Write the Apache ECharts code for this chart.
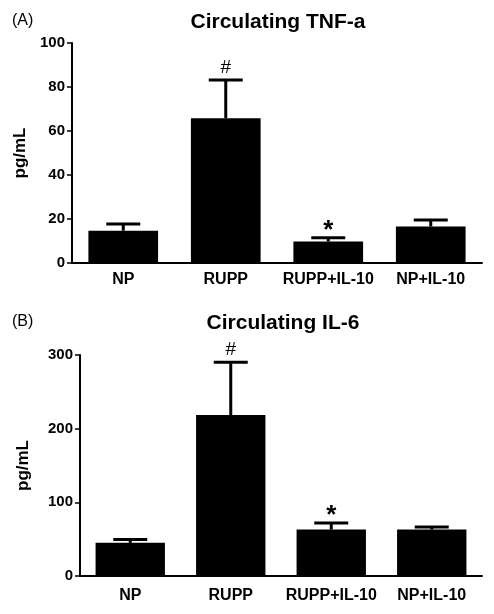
<!DOCTYPE html>
<html>
<head>
<meta charset="utf-8">
<script src="https://cdn.jsdelivr.net/npm/echarts@6/dist/echarts.min.js"></script>
<style>html,body{margin:0;padding:0;background:#fff;}#c{width:494px;height:614px;}</style>
</head>
<body>
<div id="c"></div>
<script>
const categories = ['NP', 'RUPP', 'RUPP+IL-10', 'NP+IL-10'];
const tnfMean = [14.7, 65.8, 9.8, 16.6];
const tnfUpper = [17.7, 83.2, 11.5, 19.6];
const tnfMarks = ['', '#', '*', ''];
const il6Mean = [45, 218.5, 63, 63];
const il6Upper = [49.5, 290, 72, 66.5];
const il6Marks = ['', '#', '*', ''];
const tnfAxis = { min: 0, max: 100, interval: 20 };
const il6Axis = { min: 0, max: 300, interval: 100 };
const titles = ['Circulating TNF-a', 'Circulating IL-6'];
const panelLabels = ['(A)', '(B)'];

const FONT = 'Arial, "Liberation Sans", Helvetica, sans-serif';
const chart = echarts.init(document.getElementById('c'), null, { renderer: 'canvas' });

function errRender(marks) {
  return function (params, api) {
    const idx = api.value(0);
    const p0 = api.coord([idx, api.value(1)]);
    const p1 = api.coord([idx, api.value(2)]);
    const half = 17;
    const mark = marks[params.dataIndex];
    const children = [
      { type: 'line', shape: { x1: p0[0], y1: p0[1], x2: p1[0], y2: p1[1] }, style: { stroke: '#000', lineWidth: 3 } },
      { type: 'line', shape: { x1: p1[0] - half, y1: p1[1], x2: p1[0] + half, y2: p1[1] }, style: { stroke: '#000', lineWidth: 3 } }
    ];
    if (mark === '#') {
      children.push({ type: 'text', style: { text: '#', x: p1[0], y: p1[1] - 3, align: 'center', verticalAlign: 'bottom', font: 'normal 19px ' + FONT, fill: '#000' } });
    } else if (mark === '*') {
      children.push({ type: 'text', style: { text: '*', x: p1[0], y: p1[1] + 6, align: 'center', verticalAlign: 'bottom', font: 'bold 26px ' + FONT, fill: '#000' } });
    }
    return { type: 'group', children: children };
  };
}

function xAxisDef(gi) {
  return {
    type: 'category', gridIndex: gi, data: categories,
    axisLine: { lineStyle: { color: '#000', width: 2 } },
    axisTick: { alignWithLabel: true, length: 5, lineStyle: { color: '#000', width: 1.5 } },
    axisLabel: { interval: 0, color: '#000', fontFamily: FONT, fontWeight: 'bold', fontSize: 16, margin: gi === 0 ? 9 : 12 },
    splitLine: { show: false }
  };
}
function yAxisDef(gi, ax, gap) {
  return {
    type: 'value', gridIndex: gi, min: ax.min, max: ax.max, interval: ax.interval,
    name: 'pg/mL', nameLocation: 'middle', nameGap: gap, nameRotate: 90,
    nameTextStyle: { color: '#000', fontFamily: FONT, fontWeight: 'bold', fontSize: 17 },
    axisLine: { show: true, lineStyle: { color: '#000', width: 2 } },
    axisTick: { show: true, length: 5, lineStyle: { color: '#000', width: 1.5 } },
    axisLabel: { color: '#000', fontFamily: FONT, fontWeight: 'bold', fontSize: 15, margin: 7 },
    splitLine: { show: false }
  };
}

const option = {
  backgroundColor: '#fff',
  animation: false,
  grid: [
    { left: 72, right: 12, top: 43, height: 220 },
    { left: 80, right: 12, top: 355, height: 221 }
  ],
  xAxis: [xAxisDef(0), xAxisDef(1)],
  yAxis: [yAxisDef(0, tnfAxis, 40), yAxisDef(1, il6Axis, 48)],
  graphic: [
    { type: 'text', left: 12, top: 13, style: { text: panelLabels[0], font: 'normal 16px ' + FONT, fill: '#000' } },
    { type: 'text', left: 12, top: 314, style: { text: panelLabels[1], font: 'normal 16px ' + FONT, fill: '#000' } },
    { type: 'text', x: 278, y: 22, style: { text: titles[0], align: 'center', verticalAlign: 'middle', font: 'bold 21px ' + FONT, fill: '#000' } },
    { type: 'text', x: 283, y: 323, style: { text: titles[1], align: 'center', verticalAlign: 'middle', font: 'bold 21px ' + FONT, fill: '#000' } }
  ],
  series: [
    { type: 'bar', xAxisIndex: 0, yAxisIndex: 0, data: tnfMean, barWidth: '68%', itemStyle: { color: '#000' } },
    { type: 'custom', xAxisIndex: 0, yAxisIndex: 0, renderItem: errRender(tnfMarks), data: tnfMean.map((v, i) => [i, v, tnfUpper[i]]), z: 3 },
    { type: 'bar', xAxisIndex: 1, yAxisIndex: 1, data: il6Mean, barWidth: '69%', itemStyle: { color: '#000' } },
    { type: 'custom', xAxisIndex: 1, yAxisIndex: 1, renderItem: errRender(il6Marks), data: il6Mean.map((v, i) => [i, v, il6Upper[i]]), z: 3 }
  ]
};
chart.setOption(option);
</script>
</body>
</html>
